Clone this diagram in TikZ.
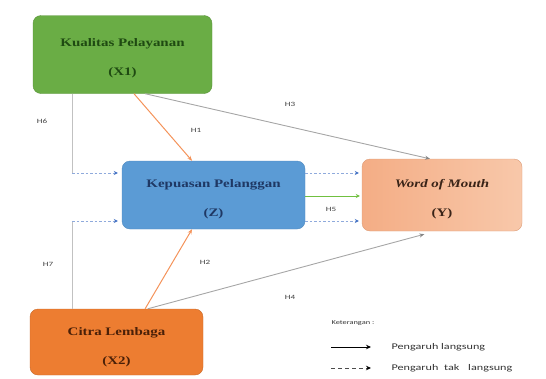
\documentclass[tikz,border=0pt]{standalone}
\usepackage{fontspec}
\setmainfont{Liberation Serif}
\newfontfamily\boxfont[FakeStretch=1.3]{Liberation Serif}
\newfontfamily\lblfont[FakeStretch=1.4]{Carlito}
\usetikzlibrary{calc,arrows.meta}
\definecolor{gfill}{HTML}{6AAD45}
\definecolor{gtext}{HTML}{1F4A12}
\definecolor{bfill}{HTML}{5B9BD5}
\definecolor{btext}{HTML}{1F3864}
\definecolor{pfill}{HTML}{F4AD85}
\definecolor{pfill2}{HTML}{F8C8AA}
\definecolor{ptext}{HTML}{3A2418}
\definecolor{ofill}{HTML}{ED7D31}
\definecolor{otext}{HTML}{4A2008}
\definecolor{grayline}{HTML}{A6A6A6}
\definecolor{dashline}{HTML}{8FAADC}
\definecolor{dashhead}{HTML}{4472C4}
\definecolor{orline}{HTML}{F4935A}
\definecolor{grline}{HTML}{70C040}
\newcommand{\topstrut}{\rule{0pt}{16pt}}
\tikzset{
  varbox/.style={rectangle, rounded corners=8pt, align=center, font=\boxfont\fontsize{11.5}{29}\selectfont\bfseries, inner sep=0pt},
  hlabel/.style={font=\lblfont\fontsize{6.5}{8}\selectfont, text=black!75},
  legtext/.style={font=\lblfont\fontsize{8.7}{10}\selectfont, text=black!80, anchor=west},
  keytext/.style={font=\lblfont\fontsize{6}{7}\selectfont, text=black!80, anchor=west},
  grayarrow/.style={draw=grayline, line width=0.9pt, -{Stealth[length=5pt,width=4pt,color=grayline!80!black]}},
  orarrow/.style={draw=orline, line width=1pt, -{Stealth[length=5pt,width=4pt]}},
  dasharrow/.style={draw=dashline, line width=0.8pt, dash pattern=on 2.5pt off 2pt, -{Stealth[length=4pt,width=4pt,color=dashhead]}},
  greenarrow/.style={draw=grline, line width=1pt, -{Stealth[length=4pt,width=4pt]}},
  plainline/.style={draw=grayline!70, line width=0.6pt}
}
\begin{document}
\begin{tikzpicture}[x=1pt,y=-1pt]
\useasboundingbox (0,0) rectangle (546,378);
% boxes
\node[varbox, fill=gfill, draw=gfill!85!black, text=gtext, minimum width=179pt, minimum height=78pt] (X1) at (122.5,54.5) {\topstrut Kualitas Pelayanan\\(X1)};
\node[varbox, fill=bfill, draw=bfill!90!black, text=btext, minimum width=183pt, minimum height=68pt] (Z) at (213.5,195) {\topstrut Kepuasan Pelanggan\\(Z)};
\node[varbox, left color=pfill, right color=pfill2, draw=pfill!90!black, text=ptext, minimum width=160pt, minimum height=72pt, font=\boxfont\fontsize{11.5}{29}\selectfont\bfseries\itshape] (Y) at (442,195) {\topstrut Word of Mouth\\\upshape (Y)};
\node[varbox, fill=ofill, draw=ofill!85!black, text=otext, minimum width=173pt, minimum height=66pt] (X2) at (116.5,342) {\rule{0pt}{19pt}Citra Lembaga\\(X2)};
% coordinates for the indirect paths
\coordinate (c6) at (72,173);
\coordinate (c7) at (72,221);
\coordinate (d6) at (330,173);
\coordinate (d7) at (330,221);
\coordinate (g5) at (330,196);
% H6, H7
\draw[plainline] (X1.south -| c6) -- (c6);
\draw[dasharrow, shorten >=4pt] (c6) -- (Z.west |- c6);
\draw[plainline] (X2.north -| c7) -- (c7);
\draw[dasharrow, shorten >=4pt] (c7) -- (Z.west |- c7);
% Z to Y
\draw[dasharrow, shorten >=3pt] (Z.east |- d6) -- (Y.west |- d6);
\draw[dasharrow, shorten >=3pt] (Z.east |- d7) -- (Y.west |- d7);
\draw[greenarrow, shorten >=2pt] (Z.east |- g5) -- (Y.west |- g5);
% H1, H2
\draw[orarrow] ($(X1.south west)!0.564!(X1.south east)$) -- ($(Z.north west)!0.383!(Z.north east)$);
\draw[orarrow] ($(X2.north west)!0.665!(X2.north east)$) -- ($(Z.south west)!0.383!(Z.south east)$);
% H3, H4
\draw[grayarrow] ($(X1.south west)!0.626!(X1.south east)$) -- ($(Y.north west)!0.425!(Y.north east)$);
\draw[grayarrow] ($(X2.north west)!0.68!(X2.north east)$) -- ($(Y.south west)!0.39!(Y.south east)+(0,3)$);
% labels
\node[hlabel] (l6) at (42,121) {H6};
\node[hlabel] (l7) at (48,264) {H7};
\node[hlabel] (l1) at (196,130) {H1};
\node[hlabel] (l2) at (205,262) {H2};
\node[hlabel] (l3) at (290,104) {H3};
\node[hlabel] (l4) at (290,297) {H4};
\node[hlabel] (l5) at (331,209) {H5};
% legend
\node[keytext] (k) at (328,323) {Keterangan :};
\coordinate (la) at (331,347);
\coordinate (lb) at (371,347);
\coordinate (lc) at (331,368);
\coordinate (ld) at (371,368);
\draw[draw=black, line width=0.8pt, -{Stealth[length=5pt,width=4.5pt]}] (la) -- (lb);
\draw[draw=black!70, line width=0.8pt, dash pattern=on 4pt off 3pt, -{Stealth[length=5pt,width=4.5pt,color=black]}] (lc) -- (ld);
\node[legtext] (p1) at (388,347) {Pengaruh langsung};
\node[legtext] (p2) at (388,368) {Pengaruh\hspace{3pt} tak\hspace{6pt} langsung};
\end{tikzpicture}
\end{document}
